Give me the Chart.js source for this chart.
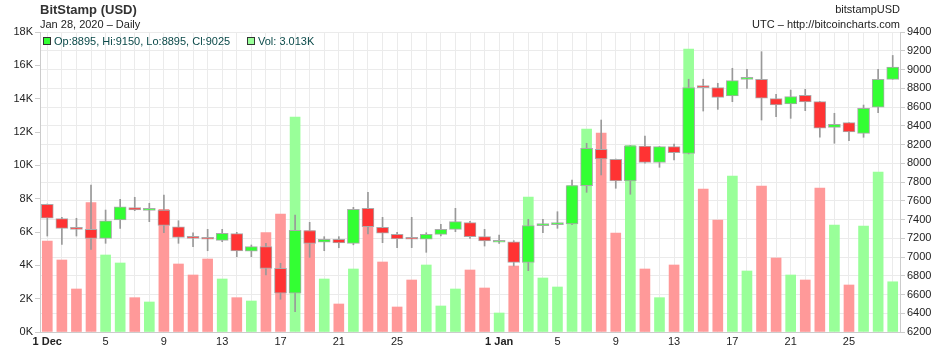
<!DOCTYPE html>
<html>
<head>
<meta charset="utf-8">
<title>BitStamp (USD) daily candles</title>
<script src="https://cdn.jsdelivr.net/npm/chart.js@4.4.1/dist/chart.umd.min.js"></script>
<style>
  html, body { margin: 0; padding: 0; background: #fff; }
  #wrap { position: relative; width: 940px; height: 348px; overflow: hidden;
          font-family: "Liberation Sans", Arial, Helvetica, sans-serif; }
  #c { position: absolute; left: 0; top: 0; }
  .t { position: absolute; white-space: nowrap; line-height: 1; }
  #title { left: 40px; top: 3px; font-size: 13px; font-weight: bold; color: #333; }
  #sub { left: 40px; top: 19px; font-size: 11px; color: #222; }
  #src { right: 40px; top: 4px; font-size: 11px; color: #222; }
  #utc { right: 40px; top: 19px; font-size: 11px; color: #222; }
  .sq { position: absolute; width: 6px; height: 6px; border: 1px solid #333; }
  .lg { position: absolute; font-size: 11px; line-height: 1; color: #0b4a4a; white-space: nowrap; }
</style>
</head>
<body>
<div id="wrap">
  <canvas id="c" width="940" height="348"></canvas>
  <div class="t" id="title">BitStamp (USD)</div>
  <div class="t" id="sub">Jan 28, 2020 – Daily</div>
  <div class="t" id="src">bitstampUSD</div>
  <div class="t" id="utc">UTC – http://bitcoincharts.com</div>
  <div class="sq" id="sqPrice" style="left:43px;top:37px;background:#33ff33;"></div>
  <div class="lg" id="lgPrice" style="left:54px;top:36px;"></div>
  <div class="sq" id="sqVol" style="left:247px;top:37px;background:#99ff99;"></div>
  <div class="lg" id="lgVol" style="left:258px;top:36px;"></div>
</div>
<script>
// Days from 1 Dec 2019 to 28 Jan 2020
const categories = [
  '1 Dec','2','3','4','5','6','7','8','9','10','11','12','13','14','15','16',
  '17','18','19','20','21','22','23','24','25','26','27','28','29','30','31',
  '1 Jan','2','3','4','5','6','7','8','9','10','11','12','13','14','15','16',
  '17','18','19','20','21','22','23','24','25','26','27','28'
];
// Indices of days that get a label on the date axis; month starts are bold
const labeledDays = [0, 4, 8, 12, 16, 20, 24, 31, 35, 39, 43, 47, 51, 55];
const monthStarts = [0, 31];

// Daily prices in USD
const opens = [
  7562, 7409, 7312, 7295, 7199, 7395, 7526, 7498, 7501, 7323, 7217, 7206, 7178, 7249, 7061, 7110,
  6879, 6613, 7281, 7157, 7189, 7146, 7519, 7317, 7242, 7192, 7189, 7242, 7295, 7366, 7217,
  7157, 7163, 6943, 7334, 7345, 7352, 7761, 8149, 8042, 7811, 8184, 8010, 8177, 8106, 8810,
  8806, 8717, 8895, 8895, 8689, 8632, 8725, 8657, 8383, 8433, 8319, 8597, 8895
];
const highs = [
  7565, 7423, 7413, 7768, 7501, 7615, 7637, 7573, 7661, 7387, 7259, 7295, 7295, 7263, 7128, 7146,
  6933, 7448, 7370, 7217, 7217, 7530, 7690, 7423, 7263, 7423, 7259, 7349, 7519, 7380, 7295,
  7235, 7174, 7402, 7402, 7483, 7821, 8213, 8461, 8045, 8190, 8291, 8180, 8205, 8896, 8896,
  8853, 9013, 9002, 9190, 8735, 8781, 8789, 8660, 8533, 8435, 8621, 9002, 9150
];
const lows = [
  7224, 7135, 7224, 7082, 7146, 7306, 7494, 7377, 7259, 7146, 7110, 7067, 7163, 7003, 7003, 6808,
  6549, 6417, 6996, 7067, 7099, 7130, 7245, 7153, 7099, 7100, 7050, 7225, 7270, 7199, 7117,
  7146, 6904, 6854, 7259, 7306, 7345, 7690, 7875, 7733, 7669, 8000, 7957, 8035, 8100, 8557,
  8575, 8657, 8799, 8461, 8497, 8479, 8561, 8277, 8213, 8241, 8277, 8539, 8895
];
const closes = [
  7413, 7306, 7295, 7199, 7387, 7536, 7501, 7519, 7338, 7210, 7199, 7189, 7253, 7064, 7110, 6879,
  6613, 7285, 7146, 7189, 7149, 7509, 7323, 7253, 7192, 7189, 7242, 7295, 7377, 7217, 7171,
  7174, 6943, 7334, 7340, 7352, 7761, 8160, 8045, 7811, 8187, 8010, 8177, 8113, 8806, 8806,
  8703, 8881, 8899, 8693, 8621, 8710, 8653, 8373, 8415, 8333, 8586, 8895, 9025
];
// Daily traded volume, thousands of BTC
const volumes = [
  5.46, 4.32, 2.58, 7.76, 4.62, 4.14, 2.06, 1.80, 7.36, 4.08, 3.42, 4.38, 3.18, 2.06, 1.86, 5.96,
  7.08, 12.90, 6.08, 3.18, 1.68, 3.78, 6.40, 4.20, 1.50, 3.12, 4.02, 1.56, 2.58, 3.72, 2.64,
  1.14, 3.96, 8.10, 3.24, 2.70, 8.80, 12.18, 11.94, 5.94, 11.20, 3.78, 2.06, 4.02, 16.98, 8.58,
  6.72, 9.36, 3.66, 8.76, 4.44, 3.42, 3.12, 8.64, 6.42, 2.82, 6.36, 9.60, 3.013
];

const FONT = '"Liberation Sans", Arial, Helvetica, sans-serif';
const isUp = i => closes[i] >= opens[i];

// Readout of the most recent session
const last = closes.length - 1;
document.getElementById('lgPrice').textContent =
  'Op:' + opens[last] + ', Hi:' + highs[last] + ', Lo:' + lows[last] + ', Cl:' + closes[last];
document.getElementById('lgVol').textContent = 'Vol: ' + volumes[last].toFixed(3) + 'K';

new Chart(document.getElementById('c'), {
  type: 'bar',
  data: {
    labels: categories,
    datasets: [
      {
        label: 'Body',
        data: opens.map((o, i) => [o, closes[i]]),
        yAxisID: 'y',
        grouped: false,
        order: 1,
        barThickness: 12,
        minBarLength: 2,
        borderWidth: 1,
        borderColor: '#aaaaaa',
        borderSkipped: false,
        backgroundColor: c => isUp(c.dataIndex) ? '#33ff33' : '#ff3333'
      },
      {
        label: 'Wick',
        data: lows.map((l, i) => [l, highs[i]]),
        yAxisID: 'y',
        grouped: false,
        order: 2,
        barThickness: 1,
        borderWidth: 0,
        backgroundColor: '#999999'
      },
      {
        label: 'Volume',
        data: volumes,
        yAxisID: 'yVol',
        grouped: false,
        order: 3,
        barThickness: 10,
        borderWidth: 0,
        backgroundColor: c => isUp(c.dataIndex) ? '#99ff99' : '#ff9999'
      }
    ]
  },
  options: {
    responsive: false,
    animation: false,
    devicePixelRatio: 1,
    layout: { padding: { top: 32, left: 0, right: 0, bottom: 0 } },
    plugins: { legend: { display: false }, tooltip: { enabled: false } },
    scales: {
      x: {
        offset: true,
        grid: { offset: false, color: '#ebebeb', drawTicks: false },
        border: { color: '#cccccc' },
        ticks: {
          autoSkip: false,
          maxRotation: 0,
          padding: 3,
          color: '#222',
          font: c => ({ family: FONT, size: 11, weight: monthStarts.includes(c.index) ? 'bold' : 'normal' }),
          callback: (v, i) => labeledDays.includes(i) ? categories[i] : ''
        },
        afterFit: s => { s.height = 16; }
      },
      yVol: {
        position: 'left',
        min: 0,
        max: 18,
        ticks: {
          stepSize: 2,
          padding: 2,
          color: '#222',
          font: { family: FONT, size: 11 },
          callback: v => v + 'K'
        },
        grid: { drawOnChartArea: false, tickLength: 5, color: '#cccccc' },
        border: { color: '#cccccc' },
        afterFit: s => { s.width = 40; }
      },
      y: {
        position: 'right',
        min: 6200,
        max: 9400,
        ticks: {
          stepSize: 200,
          padding: 2,
          color: '#222',
          font: { family: FONT, size: 11 },
          callback: v => String(v)
        },
        grid: { color: '#ebebeb', tickColor: '#cccccc', tickLength: 5 },
        border: { color: '#cccccc' },
        afterFit: s => { s.width = 40; }
      }
    }
  }
});
</script>
</body>
</html>
